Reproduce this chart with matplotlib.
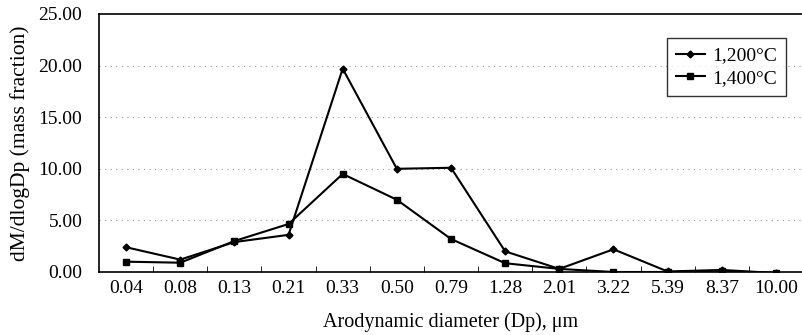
import matplotlib
matplotlib.use("Agg")
import matplotlib.pyplot as plt
import numpy as np

categories = ["0.04", "0.08", "0.13", "0.21", "0.33", "0.50", "0.79", "1.28",
              "2.01", "3.22", "5.39", "8.37", "10.00"]
t1200 = [2.4, 1.2, 2.9, 3.6, 19.7, 10.0, 10.1, 2.0, 0.3, 2.2, 0.05, 0.2, -0.1]
t1400 = [1.0, 0.9, 3.0, 4.65, 9.5, 7.0, 3.2, 0.85, 0.3, 0.0, 0.0, 0.1, -0.1]
yticks = [0, 5, 10, 15, 20, 25]

plt.rcParams['font.family'] = ['Liberation Serif', 'DejaVu Serif']
fig = plt.figure(figsize=(8.02, 3.35), dpi=100)
ax = fig.add_axes([99/802, 1 - 272/335, (803-99)/802, (272-14)/335])

x = np.arange(len(categories))
ax.plot(x, t1200, color='black', lw=1.5, marker='D', ms=3.5, label='1,200°C')
ax.plot(x, t1400, color='black', lw=1.5, marker='s', ms=5, label='1,400°C')

ax.set_xlim(-0.5, len(categories) - 0.5)
ax.set_ylim(0, 25)
ax.set_yticks(yticks)
ax.set_yticklabels([f"{v:.2f}" for v in yticks], fontsize=14)
ax.set_xticks(x)
ax.set_xticklabels(categories, fontsize=14)
ax.tick_params(axis='x', length=0, pad=6)
ax.set_xticks(np.arange(0.5, len(categories) - 1, 1), minor=True)
ax.tick_params(axis='x', which='minor', direction='in', length=4)
ax.tick_params(axis='y', length=0, pad=12)
for v in yticks[1:-1]:
    ax.axhline(v, color='#999999', lw=0.8, ls=(0, (1, 4)), zorder=0)
for s in ['left', 'bottom', 'top']:
    ax.spines[s].set_linewidth(1.2)
ax.spines['right'].set_visible(False)

ax.set_ylabel("dM/dlogDp (mass fraction)", fontsize=15.5, labelpad=6)
ax.set_xlabel("Arodynamic diameter (Dp), μm", fontsize=14.5, labelpad=11)

leg = ax.legend(loc='upper right', bbox_to_anchor=(0.976, 0.907), fontsize=14,
                frameon=True, fancybox=False, edgecolor='black', handlelength=1.5,
                handletextpad=0.4, borderpad=0.45, labelspacing=0.25,
                borderaxespad=0)
leg.get_frame().set_linewidth(1.0)

fig.savefig("out.png", dpi=100)
